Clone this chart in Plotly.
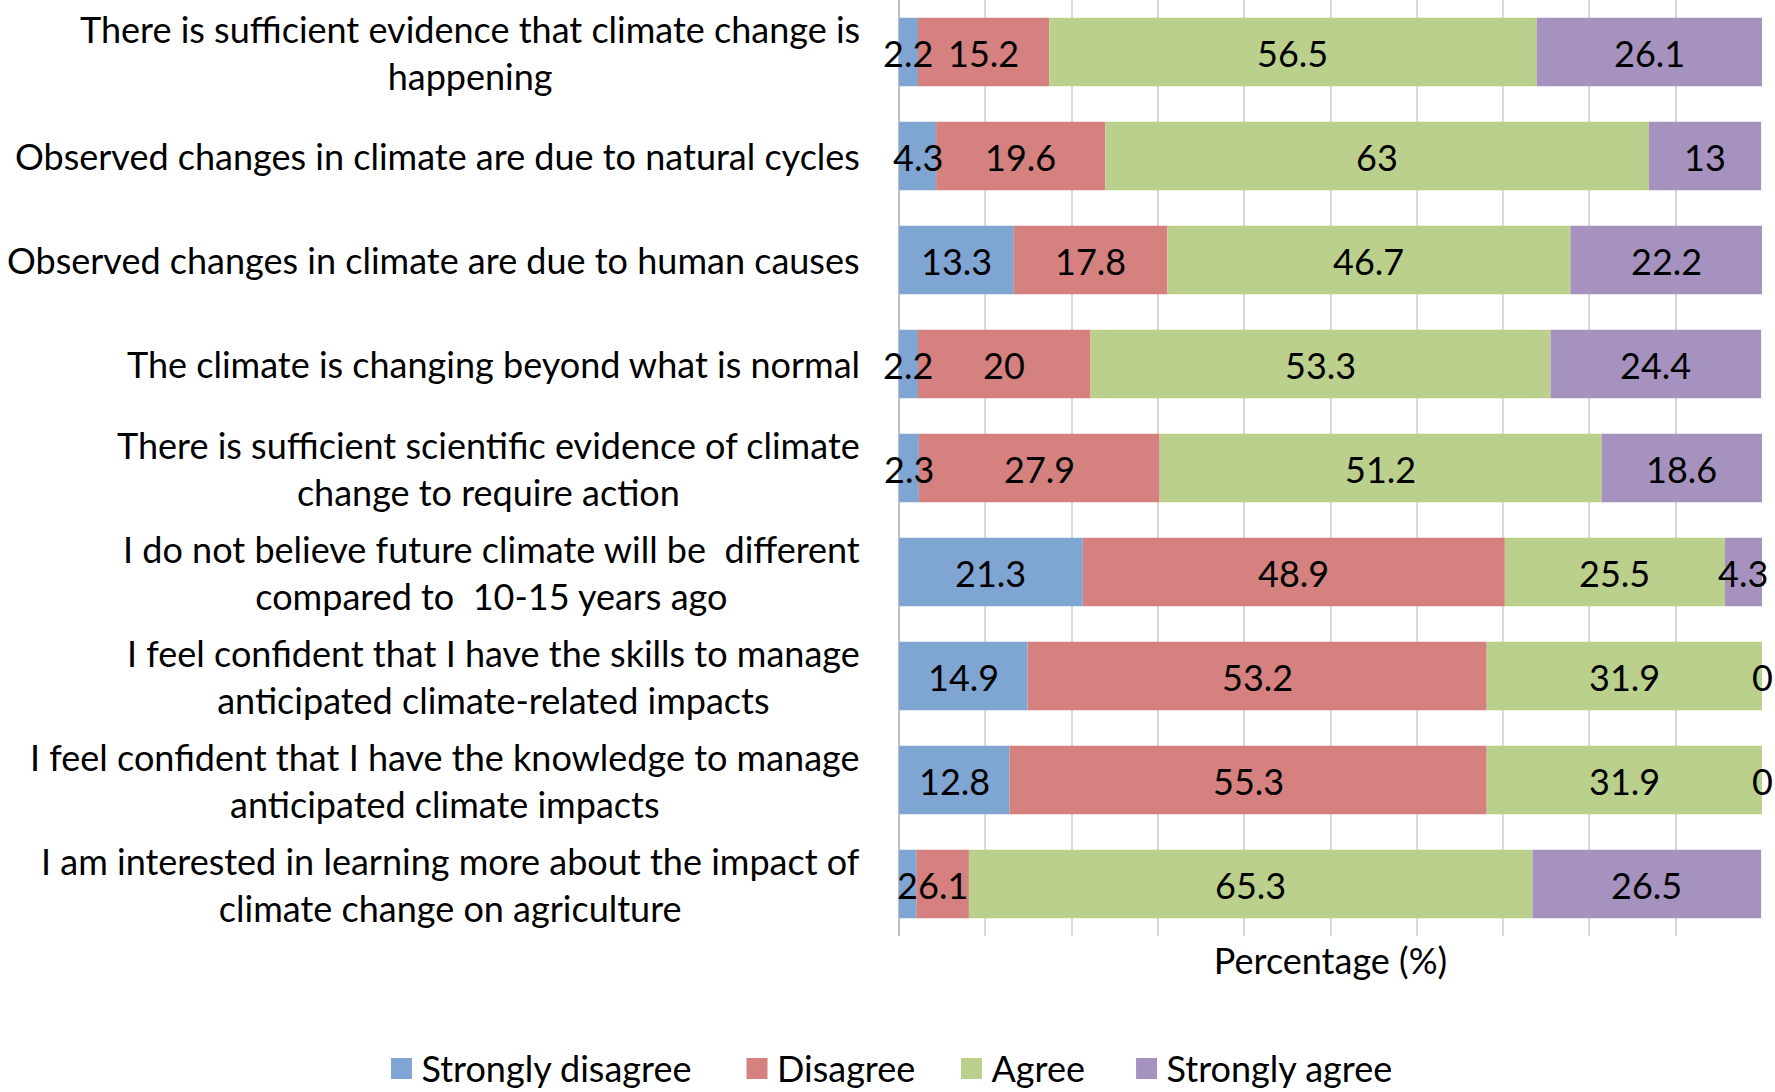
import plotly.graph_objects as go

categories = [
    "There is sufficient evidence that climate change is<br>happening",
    "Observed changes in climate are due to natural cycles",
    "Observed changes in climate are due to human causes",
    "The climate is changing beyond what is normal",
    "There is sufficient scientific evidence of climate<br>change to require action",
    "I do not believe future climate will be  different<br>compared to  10-15 years ago",
    "I feel confident that I have the skills to manage<br>anticipated climate-related impacts",
    "I feel confident that I have the knowledge to manage<br>anticipated climate impacts",
    "I am interested in learning more about the impact of<br>climate change on agriculture",
]
series_names = ["Strongly disagree", "Disagree", "Agree", "Strongly agree"]
strongly_disagree = [2.2, 4.3, 13.3, 2.2, 2.3, 21.3, 14.9, 12.8, 2]
disagree = [15.2, 19.6, 17.8, 20, 27.9, 48.9, 53.2, 55.3, 6.1]
agree = [56.5, 63, 46.7, 53.3, 51.2, 25.5, 31.9, 31.9, 65.3]
strongly_agree = [26.1, 13, 22.2, 24.4, 18.6, 4.3, 0, 0, 26.5]
x_ticks = list(range(0, 101, 10))
x_title = "Percentage (%)"

colors = ["#7FA6D3", "#D5817F", "#BCD08D", "#A692BF"]
FONT = "Lato, Open Sans, sans-serif"
FS = 36

series = [strongly_disagree, disagree, agree, strongly_agree]
ykeys = [f"c{i}" for i in range(len(categories))]
legend_ids = ["legend", "legend2", "legend3", "legend4"]
legend_x = [-0.5997, -0.1877, 0.0608, 0.2637]

fig = go.Figure()
left = [0.0] * len(categories)
for name, vals, col in zip(series_names, series, colors):
    fig.add_trace(go.Bar(
        y=ykeys, x=vals, base=left, orientation="h", name=name,
        marker=dict(color=col, line=dict(width=0)), showlegend=False,
        hoverinfo="x+y",
    ))
    # value labels centred on each segment, placed in data coordinates
    for k, l, v in zip(ykeys, left, vals):
        fig.add_annotation(
            x=l + v / 2, xref="x", y=k, yref="y", text=f"{v:g}",
            showarrow=False, xanchor="center", yanchor="middle", yshift=-1,
            font=dict(family=FONT, size=FS, color="black"),
        )
    left = [l + v for l, v in zip(left, vals)]

for name, col, lid in zip(series_names, colors, legend_ids):
    fig.add_trace(go.Scatter(
        x=[None], y=[None], mode="markers", name=name, legend=lid,
        marker=dict(symbol="square", size=16, color=col,
                    line=dict(color=col, width=5)),
    ))

for k, cat in zip(ykeys, categories):
    fig.add_annotation(
        x=0, xref="paper", y=k, yref="y", text=cat, showarrow=False,
        xanchor="right", yanchor="middle", align="center", xshift=-37,
        font=dict(family=FONT, size=FS, color="black"),
    )

leg_common = dict(orientation="h", y=-0.1416, yanchor="middle", xanchor="left",
                  font=dict(family=FONT, size=FS, color="black"),
                  itemsizing="trace", itemwidth=30, bgcolor="rgba(0,0,0,0)")

fig.update_layout(
    width=1775, height=1092,
    margin=dict(l=899, r=13, t=0, b=156, autoexpand=False),
    plot_bgcolor="white", paper_bgcolor="white",
    barmode="overlay", bargap=0.34,
    font=dict(family=FONT, size=FS, color="black"),
    xaxis=dict(range=[0, 100], tickvals=x_ticks, showticklabels=False,
               showgrid=True, gridcolor="#D9D9D9", gridwidth=2,
               zeroline=True, zerolinecolor="#BFBFBF", zerolinewidth=2,
               ticks="", fixedrange=True,
               title=dict(text=x_title, standoff=12,
                          font=dict(family=FONT, size=FS, color="black"))),
    yaxis=dict(categoryorder="array", categoryarray=ykeys, autorange="reversed",
               showticklabels=False, showgrid=False, zeroline=False, ticks="",
               fixedrange=True),
)
for lid, lx in zip(legend_ids, legend_x):
    fig.update_layout({lid: dict(x=lx, **leg_common)})

fig.write_html(
    "out.html",
    config={"displayModeBar": False},
    post_script="document.body.style.margin='0';document.body.style.overflow='hidden';",
)
